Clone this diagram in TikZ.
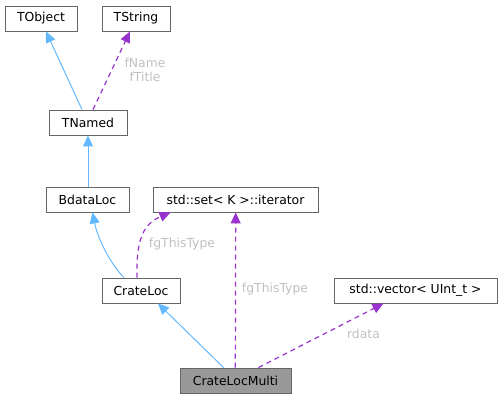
\documentclass[tikz,border=0pt]{standalone}
\usepackage{fontspec}
\setmainfont{DejaVu Sans}
\usetikzlibrary{arrows.meta}
\definecolor{inhblue}{HTML}{63B8FF}
\definecolor{usepurple}{HTML}{9A32CD}
\definecolor{lblgray}{HTML}{C0C0C0}
\definecolor{boxgray}{HTML}{666666}
\definecolor{curfill}{HTML}{999999}
\begin{document}
\begin{tikzpicture}[x=1pt,y=-1pt,
  cls/.style={draw=boxgray,line width=0.9pt,fill=white,inner sep=0pt,minimum height=25pt,font=\fontsize{12.4}{14}\selectfont,text=black},
  cur/.style={cls,fill=curfill},
  inh/.style={draw=inhblue,line width=1pt,-{Triangle[length=11pt,width=10pt,fill=inhblue]}},
  use/.style={draw=usepurple,line width=1.2pt,dash pattern=on 5pt off 4pt,-{Triangle[length=11pt,width=10pt,fill=usepurple]}},
  lbl/.style={text=lblgray,font=\fontsize{12.4}{14}\selectfont,inner sep=0pt,align=center}]
\useasboundingbox (0,0) rectangle (500,400);
\node[cls,minimum width=72pt] (TObject) at (41,18.5) {TObject};
\node[cls,minimum width=68pt] (TString) at (136,18.5) {TString};
\node[cls,minimum width=78pt] (TNamed) at (88,122.5) {TNamed};
\node[cls,minimum width=83pt] (BdataLoc) at (87.5,199.5) {BdataLoc};
\node[cls,minimum width=165pt] (SetIt) at (235.5,199.5) {std::set< K >::iterator};
\node[cls,minimum width=78pt] (CrateLoc) at (141,290.5) {CrateLoc};
\node[cls,minimum width=163pt] (Vec) at (415.5,290.5) {std::vector< UInt\_t >};
\node[cur,minimum width=111pt] (Multi) at (235.5,380.5) {CrateLocMulti};

\draw[inh] ([xshift=-6pt]TNamed.north) -- ([xshift=5pt]TObject.south);
\draw[use] ([xshift=5pt]TNamed.north) -- ([xshift=-6pt]TString.south);
\node[lbl] (l1) at (145,69.5) {fName\\fTitle};
\draw[inh] (TNamed.south |- BdataLoc.north) -- (TNamed.south);
\draw[inh] ([xshift=-17pt]CrateLoc.north) .. controls (112,266) and (98,240) .. ([xshift=5pt]BdataLoc.south);
\draw[use] ([xshift=-4pt]CrateLoc.north) .. controls (136,240) and (143,224) .. ([xshift=-65pt]SetIt.south);
\node[lbl] (l2) at (182,244) {fgThisType};
\draw[use] ([xshift=-0.2pt]Multi.north) -- ([xshift=0.2pt]SetIt.south);
\node[lbl] (l3) at (275,289) {fgThisType};
\draw[inh] ([xshift=-12pt]Multi.north) -- ([xshift=17pt]CrateLoc.south);
\draw[use] ([xshift=23pt]Multi.north) -- ([xshift=-32pt]Vec.south);
\node[lbl] (l4) at (363.5,334) {rdata};
\end{tikzpicture}
\end{document}
